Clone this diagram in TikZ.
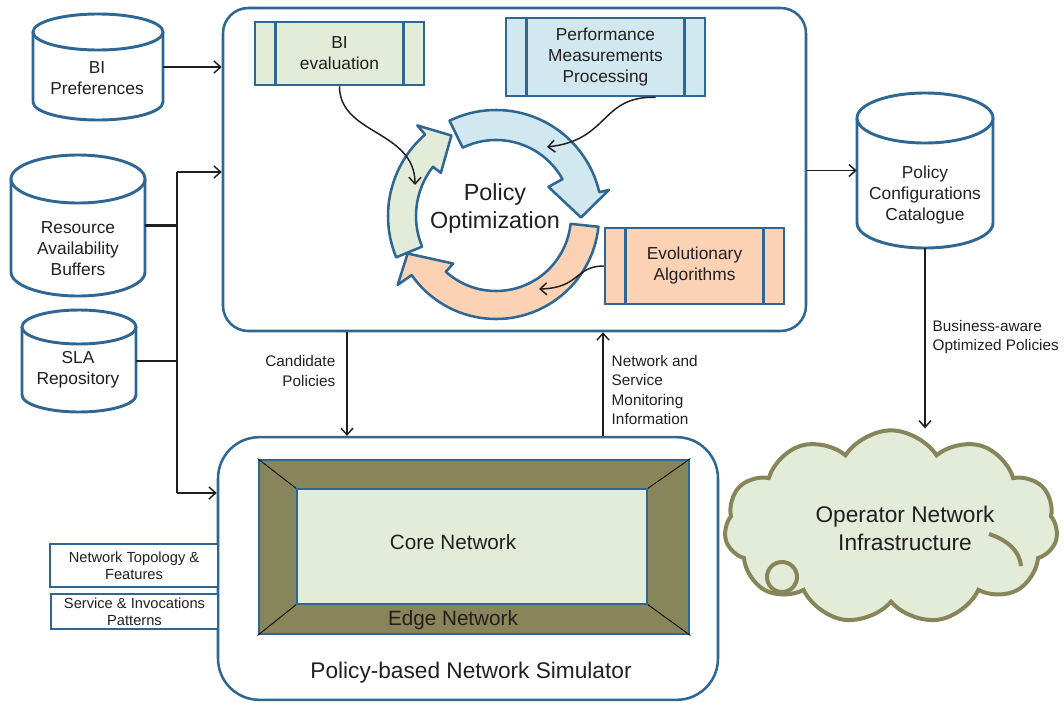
\documentclass[tikz,border=0pt]{standalone}
\usepackage{fontspec}
\setmainfont{Liberation Sans}
\usetikzlibrary{arrows.meta,shapes.symbols,calc}
\definecolor{bdr}{HTML}{2E6694}
\definecolor{gfill}{HTML}{E3EBD9}
\definecolor{bfill}{HTML}{D1E8F0}
\definecolor{pfill}{HTML}{FBD2B4}
\definecolor{olive}{HTML}{86865A}
\definecolor{txt}{HTML}{231F20}
\newcommand\dbcyl[6]{%
  \draw[cylline] (#2-#4,#3+#6) -- (#2-#4,#3+#5-#6) arc[start angle=180,end angle=0,x radius=#4,y radius=#6] -- (#2+#4,#3+#6);
  \draw[cylline] (#2,#3+#6) ellipse[x radius=#4,y radius=#6];
  \node[inner sep=0pt, minimum width={1.5*#4pt}, minimum height={0.75*#5pt}] (#1) at (#2,#3+#5/2) {};
}
\newcommand\procbox[7]{% name, cx, cy, w, h, fill, text
  \node[procnode, fill=#6, minimum width={0.75*#4pt}, minimum height={0.75*#5pt}] (#1) at (#2,#3) {};
  \draw[bline] ($(#1.north west)+(22,0)$) -- ($(#1.south west)+(22,0)$);
  \draw[bline] ($(#1.north east)+(-22,0)$) -- ($(#1.south east)+(-22,0)$);
  \node[maintext] (#1t) at (#2,#3) {#7};
}
\begin{document}
\begin{tikzpicture}[x=0.75pt,y=-0.75pt,
  cylline/.style={draw=bdr, line width=2.2pt, fill=white},
  bline/.style={draw=bdr, line width=1.9pt},
  procnode/.style={draw=bdr, line width=1.9pt, inner sep=0pt},
  maintext/.style={text=txt, align=center, font=\fontsize{13}{15.75}\selectfont},
  labtext/.style={text=txt, font=\fontsize{11.5}{14.5}\selectfont},
  smalltext/.style={text=txt, align=center, font=\fontsize{11}{12.75}\selectfont},
  conn/.style={draw=black!88, line width=1.1pt},
  arr/.style={conn, -{Straight Barb[length=5pt,width=9pt,line width=1.1pt]}},
  ring/.style={draw=bdr, line width=1.9pt, line join=round},
  cloudline/.style={draw=olive, line width=3pt}
]
\useasboundingbox (0,0) rectangle (1064,703);

% main optimisation box
\node[draw=bdr, line width=1.9pt, fill=white, rounded corners=19pt, minimum width=437.25pt, minimum height=242.25pt, inner sep=0pt] (opt) at (514.5,169.5) {};
% simulator box
\node[draw=bdr, line width=1.9pt, fill=white, rounded corners=31pt, minimum width=375pt, minimum height=197pt, inner sep=0pt] (sim) at (468,568.5) {};

% cylinders
\dbcyl{bip}{98}{14}{65}{106}{18}
\node[maintext] (bipt) at (97,78) {BI\\Preferences};
\dbcyl{res}{78}{155}{67}{141}{24}
\node[maintext] (rest) at (78,249) {Resource\\Availability\\Buffers};
\dbcyl{sla}{79}{310}{57}{102}{17}
\node[maintext] (slat) at (78,370) {SLA\\Repository};
\dbcyl{pcc}{925}{93}{68}{155}{25}
\node[maintext] (pcct) at (925,195) {Policy\\Configurations\\Catalogue};

% process boxes
\procbox{bie}{339.5}{53.5}{169}{63}{gfill}{BI\\evaluation}
\procbox{pmp}{605.5}{57}{199}{78}{bfill}{Performance\\Measurements\\Processing}
\procbox{evo}{694.5}{266}{179}{76}{pfill}{Evolutionary\\Algorithms}

% circular arrows
\begin{scope}[shift={(496,216)}, yscale=-1]
  \filldraw[ring, fill=pfill] (-6:103) arc[start angle=-6, end angle=-145, radius=103] -- (-145:120) -- (-157:96) -- (-132:64) -- (-132:75) arc[start angle=-132, end angle=-6, radius=75] -- cycle;
  \filldraw[ring, fill=gfill] (202.5:108) arc[start angle=202.5, end angle=131, radius=108] -- (131:120) -- (119:92) -- (142:70) -- (142:80) arc[start angle=142, end angle=202.5, radius=80] -- cycle;
  \filldraw[ring, fill=bfill] (116:106) arc[start angle=116, end angle=13, radius=106] -- (13:116) -- (-1:85) -- (29:60) -- (29:76) arc[start angle=29, end angle=116, radius=76] -- cycle;
\end{scope}
\node[text=txt, align=center, font=\fontsize{17.5}{21}\selectfont] (poltxt) at (495,208) {Policy\\Optimization};

\coordinate (gA) at (415,185);
\coordinate (bA) at (547,147);
\coordinate (pA) at (539,289);
\draw[arr] (bie.south) .. controls (339.5,135) and (415,130) .. (gA);
\draw[arr] ($(pmp.south)+(50,0)$) .. controls (600,96) and (610,140) .. (bA);
\draw[arr] (evo.west) .. controls (575,266) and (580,288) .. (pA);

% simulator content
\node[draw=bdr, line width=2.2pt, fill=olive, minimum width=322.5pt, minimum height=130.5pt, inner sep=0pt] (edge) at (474,547) {};
\draw[black, line width=0.6pt] (edge.north west) -- (297,489);
\draw[black, line width=0.6pt] (edge.north east) -- (647,489);
\draw[black, line width=0.6pt] (edge.south west) -- (297,604);
\draw[black, line width=0.6pt] (edge.south east) -- (647,604);
\node[draw=bdr, line width=2.2pt, fill=gfill, minimum width=262.5pt, minimum height=86.25pt, inner sep=0pt] (core) at (472,546.5) {};
\node[text=txt, font=\fontsize{15.5}{18}\selectfont] (coret) at (453,542) {Core Network};
\node[text=txt, font=\fontsize{15.5}{18}\selectfont] (edget) at (453,620) {Edge Network};
\node[text=txt, font=\fontsize{17}{20}\selectfont] (simt) at (471,673) {Policy-based Network Simulator};

% small input boxes
\node[procnode, fill=white, minimum width=126pt, minimum height=32.25pt, smalltext] (ntf) at (134,565.5) {Network Topology \&\\Features};
\node[procnode, fill=white, minimum width=125.25pt, minimum height=26.25pt, smalltext] (sip) at (134.5,611.5) {Service \& Invocations\\Patterns};

% connectors on the left
\coordinate (bt) at (177,172);
\coordinate (bb) at (177,493);
\draw[arr] (bip.east) -- (bip.east -| opt.west);
\draw[conn, line width=2.2pt] (res.east) -- (res.east -| bt);
\draw[conn, line width=2.2pt] (sla.east) -- (sla.east -| bt);
\draw[conn, line width=1.5pt] (bt) -- (bb);
\draw[arr] (bt) -- (bt -| opt.west);
\draw[arr] (bb) -- (bb -| sim.west);

% between optimisation box and simulator
\coordinate (cp) at (347,0);
\coordinate (mi) at (603,0);
\draw[arr] (cp |- opt.south) -- (cp |- sim.north);
\draw[arr] (mi |- sim.north) -- (mi |- opt.south);
\node[labtext, align=right, anchor=east] (cpl) at (340,371) {Candidate\\Policies};
\node[labtext, align=left, anchor=west] (mil) at (607,390) {Network and\\Service\\Monitoring\\Information};

% right side
\node[cloud, cloud puffs=11, cloud puff arc=115, aspect=1.7, cloudline, fill=gfill, minimum width=250pt, minimum height=145pt, inner sep=0pt] (cloud) at (891,527) {};
\draw[cloudline] (989,534) .. controls (1008,540) and (1020,552) .. (1021,566);
\draw[cloudline, fill=gfill] (782,577) circle[radius=15];
\node[text=txt, align=center, font=\fontsize{17}{21}\selectfont] (cloudt) at (905,528) {Operator Network\\Infrastructure};

\draw[arr] (pcc.west -| opt.east) -- (pcc.west);
\draw[arr] (pcc.south) -- (pcc.south |- cloud.north);
\node[labtext, align=left, anchor=west] (bal) at (928,337) {Business-aware\\Optimized Policies};
\end{tikzpicture}
\end{document}
